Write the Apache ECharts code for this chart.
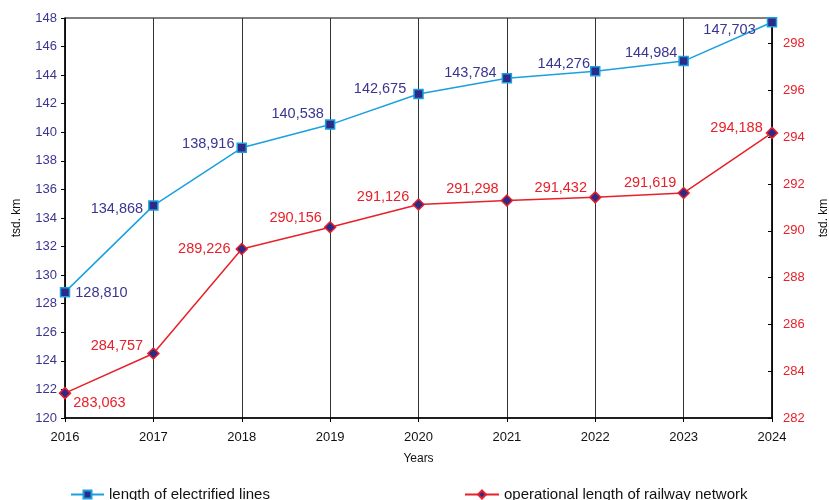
<!DOCTYPE html>
<html><head><meta charset="utf-8">
<script src="https://cdn.jsdelivr.net/npm/echarts@6/dist/echarts.min.js"></script>
<style>html,body{margin:0;padding:0;background:#fff}#c{width:829px;height:500px}</style>
</head><body><div id="c"></div>
<script>
var years = ['2016','2017','2018','2019','2020','2021','2022','2023','2024'];
var electrified = [128.810, 134.868, 138.916, 140.538, 142.675, 143.784, 144.276, 144.984, 147.703];
var operational = [283.063, 284.757, 289.226, 290.156, 291.126, 291.298, 291.432, 291.619, 294.188];
var leftTicks = [120, 148, 2];
var rightTicks = [282, 299.1, 2];

var blueOffsets = [[0,1],[0,3],[3,-4],[4,-11],[-2,-5],[0,-5],[5,-7],[4,-8],[-6,8]];
var redOffsets = [[-3,10],[1,-8],[0,0],[3,-9],[2,-8],[3,-12],[3,-9],[4,-10],[2,-5]];

function fmt(v){ var s=Math.round(v*1000).toString(); return s.replace(/\B(?=(\d{3})+(?!\d))/g, ','); }

var FONT = 'Liberation Sans, Arial, sans-serif';
var NAVY = '#3a3590';
var RED = '#e8202a';

var blueData = electrified.map(function(v,i){
  return {value:v, label:{position: i===0?'right':'left', offset:blueOffsets[i]}};
});
var redData = operational.map(function(v,i){
  return {value:v, label:{position: i===0?'right':'left', offset:redOffsets[i]}};
});

var chart = echarts.init(document.getElementById('c'));
chart.setOption({
  animation:false,
  textStyle:{fontFamily:FONT},
  grid:{left:65,right:57,top:18,bottom:82,show:true,borderColor:'#000',borderWidth:1,backgroundColor:'transparent',outerBoundsMode:'none',containLabel:false},
  legend:[
    {data:['length of electrified lines'],left:65,top:482,itemWidth:33,itemHeight:10,itemGap:0,textStyle:{fontFamily:FONT,fontSize:15,color:'#111'}},
    {data:['operational length of railway network'],left:459,top:482,itemWidth:34,itemHeight:10,itemGap:0,textStyle:{fontFamily:FONT,fontSize:15,color:'#111'}}
  ],
  xAxis:{
    type:'category',data:years,boundaryGap:false,
    name:'Years',nameLocation:'middle',nameGap:35,nameTextStyle:{fontFamily:FONT,fontSize:12,color:'#111'},
    axisLine:{lineStyle:{color:'#000',width:1.5}},
    axisTick:{show:true,length:4,lineStyle:{color:'#000'}},
    axisLabel:{fontFamily:FONT,fontSize:13,color:'#111',margin:13},
    splitLine:{show:true,lineStyle:{color:'#333',width:1}}
  },
  yAxis:[
    {type:'value',min:leftTicks[0],max:leftTicks[1],interval:leftTicks[2],
     name:'tsd. km',nameLocation:'middle',nameGap:42,nameRotate:90,nameTextStyle:{fontFamily:FONT,fontSize:12,color:'#111'},
     axisLine:{show:true,lineStyle:{color:'#000',width:1.5}},
     axisTick:{show:true,length:4,lineStyle:{color:'#000'}},
     axisLabel:{fontFamily:FONT,fontSize:13,color:NAVY,margin:8},
     splitLine:{show:false}},
    {type:'value',min:rightTicks[0],max:rightTicks[1],interval:rightTicks[2],position:'right',
     name:'tsd. km',nameLocation:'middle',nameGap:46,nameRotate:90,nameTextStyle:{fontFamily:FONT,fontSize:12,color:'#111'},
     axisLine:{show:true,lineStyle:{color:'#000',width:1.5}},
     axisTick:{show:true,length:4,inside:true,lineStyle:{color:'#000'}},
     axisLabel:{fontFamily:FONT,fontSize:13,color:RED,margin:11,showMaxLabel:false,
       formatter:function(v){return (Math.abs(v-Math.round(v))<1e-6 && Math.round(v)%2===0)?String(v):'';}},
     splitLine:{show:false}}
  ],
  series:[
    {name:'length of electrified lines',type:'line',yAxisIndex:0,data:blueData,
     lineStyle:{color:'#1aa0e0',width:1.5},
     symbol:'rect',symbolSize:9,
     itemStyle:{color:'#2e2a88',borderColor:'#1aa0e0',borderWidth:1.5},
     label:{show:true,fontFamily:FONT,fontSize:14.5,color:NAVY,formatter:function(p){return fmt(p.value);}},
     z:3},
    {name:'operational length of railway network',type:'line',yAxisIndex:1,data:redData,
     lineStyle:{color:RED,width:1.5},
     symbol:'diamond',symbolSize:[11,11],
     itemStyle:{color:'#2e2a88',borderColor:RED,borderWidth:1.5},
     label:{show:true,fontFamily:FONT,fontSize:14.5,color:RED,formatter:function(p){return fmt(p.value);}},
     z:3}
  ]
});
</script></body></html>
